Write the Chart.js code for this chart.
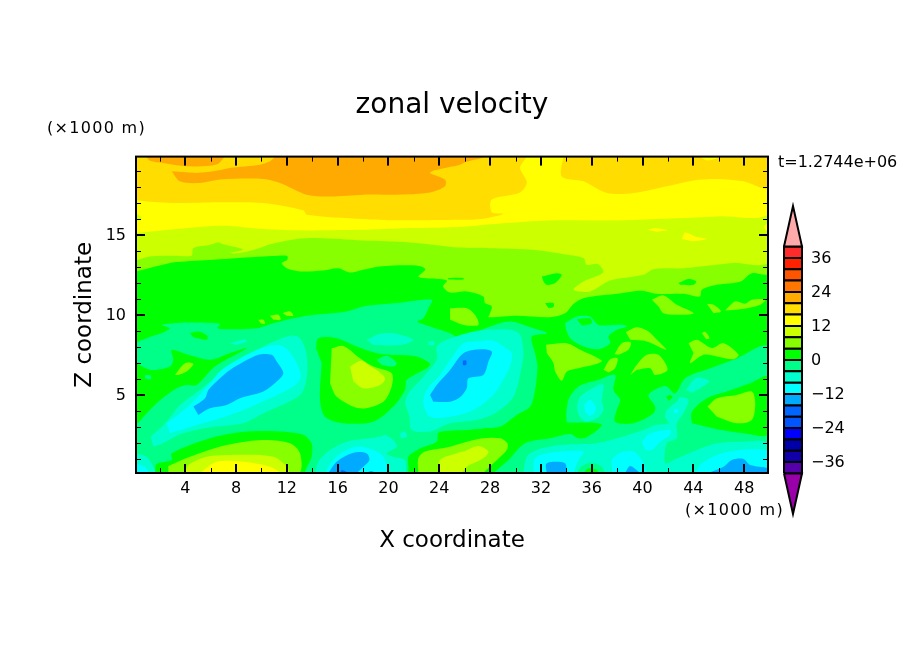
<!DOCTYPE html>
<html>
<head>
<meta charset="utf-8">
<title>zonal velocity</title>
<script src="https://cdn.jsdelivr.net/npm/chart.js"></script>
<style>
  html, body { margin: 0; padding: 0; background: #fff; }
  #wrap { position: relative; width: 904px; height: 654px; overflow: hidden; }
  canvas { position: absolute; left: 0; top: 0; }
</style>
</head>
<body>
<div id="wrap">
  <canvas id="fieldCanvas" width="904" height="654"></canvas>
  <canvas id="barCanvas" width="904" height="654"></canvas>
</div>
<script>
// axis values
const xRange = [0.125, 49.875];
const zRange = [0.125, 19.875];
const xMajorTicks = [4, 8, 12, 16, 20, 24, 28, 32, 36, 40, 44, 48];
const xMinorTicks = [2, 6, 10, 14, 18, 22, 26, 30, 34, 38, 42, 46];
const zMajorTicks = [5, 10, 15];
const zMinorTicks = [1, 2, 3, 4, 6, 7, 8, 9, 11, 12, 13, 14, 16, 17, 18, 19];

// colour bar
const barEdges = [-40, -36, -32, -28, -24, -20, -16, -12, -8, -4, 0, 4, 8, 12, 16, 20, 24, 28, 32, 36, 40];
const barColors = ['#5500aa', '#1100aa', '#0000aa', '#0000ff', '#0055ff', '#0066ff', '#00aaff', '#00ffff', '#00ffcc', '#00ff88',
  '#00ff00', '#88ff00', '#ccff00', '#ffff00', '#ffdd00', '#ffaa00', '#ff7700', '#ff5500', '#ff2200', '#ff2a2a'];
const barTicks = [-36, -24, -12, 0, 12, 24, 36];
const arrowTop = [[0, 40], [0.5, 54.3], [1, 40], [0, 40]];
const arrowBottom = [[0, -40], [0.5, -54.3], [1, -40], [0, -40]];

// shade colours by velocity band
const n16 = '#00aaff', n12 = '#00ffff', n8 = '#00ffcc', n4 = '#00ff88', p0 = '#00ff00',
  p4 = '#88ff00', p8 = '#ccff00', p12 = '#ffff00', p16 = '#ffdd00', p20 = '#ffaa00', n20 = '#0066ff';

// contour regions, [x, z] in km
const domain = [[0.125, 0.125], [49.875, 0.125], [49.875, 19.875], [0.125, 19.875]];

const band4 = [[0.125, 12.71], [2, 13.08], [3.3, 13.29], [6.2, 13.44], [10.15, 13.64], [12, 13.69], [12.04, 13.44], [11.6, 13.23], [12, 12.91],
  [13.04, 12.71], [14.87, 12.77], [16.05, 12.91], [16.97, 12.64], [18, 12.81], [19.3, 13.02], [22.2, 13.08], [22.9, 12.85], [22.35, 12.39],
  [22.75, 12.29], [24.6, 12.14], [24.3, 11.77], [24.85, 11.39], [26.16, 11.46], [27.47, 11.14], [27.6, 10.73], [28.13, 10.52], [27.95, 10],
  [27.87, 9.85], [30.1, 9.94], [32.7, 9.85], [33.9, 10.1], [34.56, 10.68], [35.35, 11.04], [37.97, 11.31], [39.94, 11.5], [41.1, 11.31],
  [43.2, 11.31], [44.5, 11.14], [44.67, 11.56], [45.85, 11.87], [47.7, 12.08], [48.6, 12.6], [49.875, 12.6], [49.875, 19.875], [0.125, 19.875]];
const band8 = [[0.125, 13.39], [1.2, 13.64], [3.06, 13.69], [4.5, 13.69], [4.64, 14.16], [5.95, 14.37], [6.6, 14.52], [7.13, 14.37], [8.3, 14.16],
  [8.57, 14.06], [7.47, 13.85], [8.3, 13.85], [9.6, 14.1], [10.7, 14.41], [12.8, 14.73], [14.35, 14.79], [18, 14.64], [21.7, 14.52], [25.6, 14.2],
  [28, 14.16], [31.4, 14.06], [34.04, 13.75], [35.35, 13.54], [35.6, 13.12], [36.5, 13.16], [36.9, 12.64], [35.35, 12.08], [34.56, 11.56],
  [35.87, 11.46], [37.45, 12.14], [40.07, 12.5], [40.86, 12.85], [43.2, 12.91], [45.85, 13.12], [47.16, 13.23], [49.875, 13.33],
  [49.875, 19.875], [0.125, 19.875]];
const band12 = [[0.125, 15.1], [3.3, 15.35], [7, 15.56], [10.15, 15.35], [12.8, 15.27], [18, 15.31], [20.65, 15.39], [25.6, 15.48], [28.8, 15.7],
  [32.72, 15.89], [37.97, 15.89], [43.2, 16.04], [45.85, 16.14], [49.875, 16.31], [49.875, 19.875], [0.125, 19.875]];
const gold16Left = [[0.125, 17.18], [0.96, 17.08], [3.6, 16.98], [7, 17.02], [10.15, 16.98], [13.3, 16.52], [13.56, 16.25], [18, 15.98], [20.65, 15.9],
  [25.6, 15.93], [27.47, 16], [29.05, 16.31], [28.13, 16.4], [28.13, 17.19], [30.36, 17.64], [30.89, 18.27], [30.36, 19.17], [30.76, 19.875], [0.125, 19.875]];
const gold16Right = [[33.77, 19.875], [33.64, 18.64], [35.35, 18.33], [37.2, 17.6], [39.3, 17.6], [41.9, 18.02], [44, 18.39], [45.85, 18.48],
  [47.95, 18.33], [49.875, 17.91], [49.875, 19.875]];
const orangeMain = [[2.93, 18.96], [3.59, 18.33], [5.16, 18.23], [6.74, 18.44], [10.15, 18.48], [11.46, 18.23], [13.56, 17.5], [15.4, 17.39], [18, 17.5],
  [20.65, 17.5], [23.27, 17.64], [24.45, 18.02], [24.45, 18.44], [23.27, 18.89], [25.63, 19.37], [26.03, 19.52], [27.6, 19.875], [11.2, 19.875],
  [10.67, 19.58], [9.89, 19.37], [7.52, 19.17], [6.21, 18.96], [4.9, 18.85]];
const orangeTop = [[0.91, 19.875], [1.22, 19.62], [2.27, 19.48], [4.1, 19.27], [5.95, 19.31], [6.6, 19.43], [7.13, 19.875]];
const yellowTopRight = [[44.5, 19.875], [45.06, 19.64], [45.98, 19.79], [46.06, 19.875]];
const yellowIsle1 = [[40.34, 15.31], [40.99, 15.41], [42.05, 15.27], [41.13, 15.19]];
const yellowIsle2 = [[43.09, 14.73], [43.35, 15.14], [44.28, 14.85], [45.06, 14.73], [44.01, 14.58]];
const yellowEdge = [[49.53, 15.48], [49.875, 15.73], [49.875, 15.1]];
const limeNotch = [[0.125, 16.35], [0.57, 16.04], [0.125, 15.9]];
const greenBand1 = [[32.07, 12.39], [33.25, 12.6], [33.64, 12.5], [33.12, 11.98], [32.46, 11.87], [32.2, 12.08]];
const greenBand2 = [[32.33, 10.73], [32.99, 10.73], [32.99, 10.48], [32.59, 10.42]];
const greenBand3 = [[42.83, 11.98], [43.62, 12.23], [44.22, 12.08], [44.01, 11.87], [42.96, 11.87]];
const greenSliver = [[24.7, 12.3], [25.9, 12.3], [25.9, 12.2], [24.7, 12.2]];

const tealMain = [[0.125, 0.125], [0.125, 8.12], [0.96, 8.54], [2.01, 8.81], [2.8, 9.16], [2.14, 9.37], [3.06, 9.48], [4.37, 9.52], [6.74, 9.44],
  [6.53, 9.16], [7.52, 9.1], [9.62, 9.16], [10.94, 9.48], [13.56, 9.94], [16.71, 10.21], [18.02, 10.52], [20.65, 10.73], [23.4, 10.94], [23.14, 10.41],
  [22.75, 9.79], [22.27, 9.58], [23.27, 9.27], [24.85, 8.85], [25.63, 8.54], [26.69, 8.85], [28, 9.27], [29.57, 9.58], [31.41, 9.16], [32.46, 8.85],
  [31.28, 8.64], [31.54, 7.6], [31.73, 6.77], [31.54, 5.31], [31.15, 4.27], [30.1, 3.75], [28.79, 3.02], [27.47, 2.91], [26.16, 2.81], [24.85, 2.77],
  [23.93, 2.64], [23.8, 2.08], [22.49, 1.66], [21.57, 1.14], [21.44, 0.125], [13.56, 0.125], [13.95, 1.14], [13.95, 1.98], [13.3, 2.5], [11.46, 2.71],
  [8.84, 2.71], [5.95, 2.29], [2.93, 1.35], [2.93, 0.94], [1.75, 0.69], [1.62, 0.125]];
const tealRight = [[28.26, 0.125], [29.44, 0.94], [30.76, 1.98], [32.72, 2.29], [34.3, 2.56], [34.95, 2.29], [35.61, 2.35], [36.79, 3.12], [35.87, 3.27],
  [34.56, 3.27], [34.04, 3.33], [34.17, 4.69], [34.96, 5.52], [36.53, 5.94], [37.84, 6.25], [37.71, 5.31], [38.24, 4.69], [37.97, 4.06], [37.84, 3.33],
  [39.29, 3.23], [40.86, 3.85], [40.99, 4.27], [40.47, 5], [41.78, 5.56], [42.57, 5.1], [43.35, 6.04], [45.32, 6.66], [47.16, 7.19], [49.875, 7.98],
  [49.875, 0.125]];
const tealIsle = [[33.9, 9.48], [34.82, 9.89], [35.87, 9.89], [36.53, 9.37], [38.5, 9.37], [38.76, 9.27], [37.97, 9.06], [37.32, 8.64], [37.45, 8.23],
  [36.53, 7.85], [35.35, 8.02], [34.3, 8.54], [33.98, 9.06]];
const greenInIsle = [[34.82, 9.73], [35.87, 9.79], [36, 9.48], [35.22, 9.33]];
const greenWedge = [[0.125, 3.12], [1.75, 4.48], [3.33, 5.41], [4.11, 5.62], [4.9, 5.62], [6.34, 6.77], [8.84, 7.91], [7.52, 7.6], [5.95, 7.19], [4.24, 7.5],
  [2.93, 7.81], [3.06, 7.19], [2.8, 6.77], [1.36, 6.56], [0.125, 6.98]];
const tealInWedge = [[0.83, 6.25], [1.28, 6.21], [1.28, 5.98], [0.83, 6.04]];
const limeInWedge = [[3.19, 6.25], [3.98, 6.98], [4.64, 6.93], [4.11, 6.46], [3.46, 6.25]];
const greenStrip = [[4.37, 8.85], [5.03, 8.96], [5.74, 8.69], [5.69, 8.44], [4.64, 8.6]];
const greenCentre = [[14.3, 7.91], [14.48, 8.54], [15.92, 8.54], [17.5, 8.02], [19.07, 7.6], [20.12, 7.5], [22.22, 7.39], [23.27, 6.87], [21.44, 5.94],
  [21.3, 5.31], [20.38, 4.27], [18.81, 3.33], [16.45, 3.23], [15, 3.64], [14.61, 4.69], [14.74, 6.98]];
const tealInCentre = [[19.07, 7.19], [19.86, 7.44], [20.65, 6.98], [20.38, 6.77], [19.47, 6.87]];
const limeCentre = [[15.53, 7.91], [16.45, 8.06], [17.76, 7.29], [18.81, 6.77], [20.25, 6.35], [20.25, 5.52], [19.6, 4.58], [17.76, 4.16], [15.92, 4.89], [15.4, 5.73]];
const yellowGreenCentre = [[16.97, 6.77], [17.89, 7.14], [18.42, 6.87], [19.07, 6.56], [19.73, 6.04], [19.34, 5.62], [18.02, 5.41], [17.24, 5.83]];
const greenOval = [[43.88, 3.23], [43.88, 3.95], [45.06, 4.79], [46.63, 5.21], [48.47, 5.73], [49.875, 6.14], [49.875, 2.56], [47.95, 2.6], [45.85, 2.85]];
const limeOval = [[45.11, 4.27], [45.85, 4.79], [47.42, 5], [48.6, 5.21], [48.87, 4.48], [48.6, 3.44], [47.42, 3.23], [45.85, 3.64]];

const plume1Outer = [[1.28, 2.39], [2.54, 3.33], [3.59, 4.37], [5.16, 5.31], [7, 6.46], [8.84, 7.39], [10.41, 8.12], [12.25, 8.69], [13.04, 8.54], [13.56, 7.5],
  [13.56, 6.04], [13.04, 5], [10.15, 3.85], [8.57, 3.23], [5.42, 2.91], [3.46, 2.5], [2.27, 1.98], [1.49, 1.77]];
const plume1Cyan = [[2.54, 3.23], [3.59, 3.85], [4.77, 4.69], [5.95, 5.73], [6.87, 6.56], [8.84, 7.5], [10.41, 8.02], [11.72, 8.02], [12.64, 7.19], [13.09, 6.14],
  [12.51, 5.52], [10.41, 4.69], [8.57, 4.06], [6.74, 3.54], [4.9, 3.12], [2.8, 2.6]];
const plume1Blue = [[4.64, 4.27], [5.56, 4.79], [5.82, 5.31], [6.74, 6.04], [7.52, 6.56], [9.76, 7.5], [10.8, 7.5], [11.2, 7.08], [11.72, 6.35], [11.2, 5.83],
  [10.15, 5.21], [8.31, 4.79], [7.26, 4.37], [5.95, 4.16], [5.03, 3.75]];
const plume2Outer = [[21.3, 4.48], [21.57, 5.1], [22.75, 6.14], [23.8, 7.19], [23.8, 8.02], [24.59, 8.44], [26.16, 8.85], [27.74, 9.06], [29.57, 9.06], [30.36, 8.75],
  [30.62, 7.6], [30.49, 6.77], [29.84, 4.89], [28.39, 3.85], [26.95, 3.44], [24.85, 3.23], [23.27, 2.71], [21.83, 2.81], [21.65, 3.64]];
const plume2Cyan = [[24.85, 7.19], [25.9, 8.23], [26.95, 8.33], [28.26, 8.39], [29.05, 8.02], [29.71, 7.6], [29.57, 6.77], [28.79, 5.62], [28.26, 5], [26.69, 4.06],
  [24.85, 3.64], [23.27, 3.64], [22.75, 4.48], [23.01, 5.31], [24.06, 6.25]];
const plume2Blue = [[23.27, 5], [23.8, 5.62], [24.85, 6.56], [25.9, 7.6], [27.21, 7.85], [28.13, 7.71], [27.87, 7.08], [27.47, 6.25], [26.29, 6.04], [26.16, 5.41],
  [25.63, 4.85], [24.85, 4.58], [23.53, 4.58]];
const plume2Dot = [[25.85, 7.14], [26.11, 7.14], [26.11, 6.87], [25.85, 6.87]];
const stripCyan = [[7.52, 8.23], [8.7, 8.48], [8.84, 8.33], [8.05, 8.12]];
const topIsle = [[18.29, 8.44], [19.34, 8.81], [20.38, 8.85], [21.96, 8.44], [21.04, 8.12], [18.81, 8.12]];
const topIsleSmall = [[23.14, 8.33], [23.59, 8.33], [23.59, 8.12], [23.14, 8.12]];

const lobeLeft4 = [[2.67, 0.56], [4.37, 1.14], [7.26, 1.87], [10.15, 2.19], [12.25, 1.98], [13.04, 1.35], [12.9, 0.125], [2.67, 0.125]];
const lobeLeft8 = [[3.98, 0.125], [4.24, 0.62], [5.69, 1.14], [7.52, 1.25], [10.94, 1.14], [11.99, 0.52], [12.25, 0.125]];
const lobeLeft12 = [[5.16, 0.125], [6.47, 0.83], [8.57, 0.83], [10.67, 0.52], [11.59, 0.125]];
const cornerOuter = [[0.125, 1.35], [0.96, 1.14], [1.49, 0.52], [1.62, 0.125], [0.125, 0.125]];
const cornerCyan = [[0.125, 0.69], [0.83, 0.52], [1.09, 0.125], [0.125, 0.125]];
const midOuter = [[14.22, 0.125], [14.48, 0.83], [15.4, 1.56], [16.71, 2.08], [19.34, 2.39], [19.73, 2.5], [20.38, 2.19], [20.65, 1.77], [19.86, 1.35], [20.38, 1.14],
  [21.3, 0.94], [21.38, 0.125]];
const midIsle = [[20.91, 2.6], [21.3, 2.71], [21.44, 2.39], [20.96, 2.29]];
const midCyan = [[15, 0.125], [15.4, 0.69], [16.19, 1.35], [17.5, 1.77], [18.81, 1.56], [19.6, 1.14], [20, 0.125]];
const midBlue = [[15.27, 0.125], [15.92, 0.83], [17.24, 1.39], [18.29, 1.35], [18.5, 0.94], [18.02, 0.52], [17.5, 0.125]];
const midBlueTail = [[18.3, 0.125], [18.6, 0.25], [19.07, 0.125]];
const midDark = [[16.19, 0.125], [16.32, 0.31], [16.71, 0.2]];
const lobeRight4 = [[22.35, 0.125], [22.35, 1.04], [22.88, 1.46], [24.85, 1.77], [26.16, 2.08], [27.47, 2.29], [28.79, 2.29], [29.36, 1.98], [29.31, 1.56], [28.26, 0.73], [27.47, 0.125]];
const lobeRight8 = [[23.93, 0.125], [24.06, 0.94], [25.5, 1.39], [25.9, 1.46], [27.08, 1.81], [27.87, 1.46], [27.47, 1.04], [26.16, 0.52], [25.77, 0.125]];

const rightOuter = [[30.62, 0.125], [30.89, 1.14], [31.67, 1.56], [33.51, 1.87], [36.4, 1.98], [37.97, 2.29], [40.07, 2.81], [40.99, 3.12], [42.04, 3.23], [41.78, 3.64],
  [41.91, 4.06], [42.7, 4.58], [42.96, 4.85], [43.62, 4.69], [43.22, 3.85], [42.7, 3.23], [42.7, 2.29], [41.91, 1.98], [41.78, 0.73], [42.44, 0.94], [44.27, 1.56],
  [45.85, 1.98], [47.95, 2.08], [49.875, 1.98], [49.875, 0.125]];
const hillOuter = [[34.82, 4.27], [35.09, 4.89], [36.53, 5.62], [36.92, 5.62], [36.79, 4.69], [36.92, 4.06], [36.4, 3.54], [35.48, 3.33], [34.96, 3.75]];
const hillCyan = [[35.4, 4.37], [35.87, 4.69], [36.32, 4.27], [36.19, 3.85], [35.82, 3.69], [35.48, 3.96]];
const patchOuter = [[43.43, 5.31], [44.14, 6.04], [44.8, 6.04], [45.27, 5.83], [44.54, 5.42], [43.88, 5.14]];
const tinyCyan = [[42.44, 4.06], [42.7, 4.14], [42.83, 3.94], [42.49, 3.85]];
const tinyGreen = [[41.86, 4.9], [42.17, 5], [42.36, 4.86], [42.04, 4.63]];
const cyanMid = [[39.94, 2.08], [40.6, 2.6], [42.17, 2.81], [42.17, 2.5], [41.39, 2.08], [40.73, 1.56], [40.2, 1.56]];
const cyanFoot1 = [[31.41, 0.125], [31.54, 1.04], [32.72, 1.39], [35.35, 1.46], [34.96, 0.94], [34.56, 0.125]];
const blueFoot1 = [[32.46, 0.125], [32.41, 0.69], [32.99, 0.83], [33.9, 0.73], [34.04, 0.125]];
const tealFoot = [[34.82, 0.125], [35.22, 0.56], [36, 0.77], [36.79, 0.52], [37.05, 0.125]];
const greenFoot = [[35.35, 0.125], [35.74, 0.41], [36.4, 0.31], [36.53, 0.125]];
const cyanFoot2 = [[37.63, 0.125], [37.58, 0.94], [38.24, 1.39], [39.29, 1.46], [39.94, 0.94], [40.34, 0.125]];
const blueFoot2 = [[38.63, 0.125], [39.02, 0.56], [39.81, 0.125]];
const cyanFoot3 = [[44.14, 0.125], [44.67, 0.73], [45.85, 1.25], [47.68, 1.56], [49.875, 1.46], [49.875, 0.125]];
const blueFoot3 = [[45.19, 0.125], [46.37, 0.52], [47.03, 0.94], [47.95, 1], [48.47, 0.62], [49.875, 0.41], [49.875, 0.125]];

const lime1 = [[32.41, 8.13], [34.04, 8.23], [35.09, 7.82], [36.79, 7.13], [36.14, 6.88], [34.96, 6.67], [34.04, 6.46], [33.64, 5.88], [33.12, 6.46], [32.99, 6.98], [32.46, 7.61]];
const lime2 = [[36.93, 6.57], [37.45, 7.23], [38.03, 7.29], [37.84, 6.67], [37.32, 6.4]];
const lime3 = [[37.79, 7.54], [38.37, 8.23], [39.08, 8.27], [38.89, 7.82], [38.1, 7.5]];
const lime4 = [[38.68, 8.92], [39.55, 9.23], [40.47, 8.96], [41.13, 8.44], [41.86, 7.82], [40.34, 8.34], [39.03, 8.44]];
const lime5 = [[39.03, 6.25], [39.55, 6.88], [40.34, 7.5], [41.26, 7.5], [41.97, 6.57], [40.99, 6.25], [40.6, 6.67], [39.55, 6.57]];
const lime6 = [[43.62, 8.23], [44.28, 8.44], [45.46, 7.92], [46.38, 8.23], [47.56, 7.5], [47.16, 7.23], [45.85, 7.4], [44.8, 7.5], [43.75, 6.98], [44.01, 7.61]];
const lime7 = [[44.67, 8.86], [44.93, 8.94], [45.27, 8.54], [45.01, 8.48]];
const lime9 = [[40.73, 10.94], [41.65, 11.21], [42.7, 10.62], [44.01, 10.1], [42.96, 10], [41.65, 10.1], [41.26, 10.52]];
const lime10 = [[45.06, 10.69], [45.59, 10.62], [46.17, 10.21], [45.59, 10.1]];
const lime11 = [[46.5, 10.27], [47.29, 10.83], [48.08, 10.69], [48.61, 10.94], [49.66, 10.94], [49.26, 10.62], [48.34, 10.42], [47.43, 10.31]];
const lime13 = [[24.85, 10.41], [26.16, 10.41], [26.82, 9.98], [27.08, 9.37], [25.9, 9.37], [24.85, 9.69]];
const limeSpot1 = [[9.76, 9.69], [10.15, 9.69], [10.28, 9.44], [9.94, 9.48]];
const limeSpot2 = [[10.67, 9.94], [11.33, 10], [11.52, 9.69], [10.94, 9.69]];
const limeSpot3 = [[11.67, 10.1], [12.25, 10.21], [12.51, 9.94], [11.99, 9.94]];

// painted in this order, later ones on top
const layers = [
  [domain, p0], [band4, p4], [band8, p8], [band12, p12], [gold16Left, p16], [gold16Right, p16], [orangeMain, p20], [orangeTop, p20],
  [yellowTopRight, p12], [yellowIsle1, p12], [yellowIsle2, p12], [yellowEdge, p12], [limeNotch, p8],
  [greenBand1, p0], [greenBand2, p0], [greenBand3, p0], [greenSliver, p0],
  [tealMain, n4], [tealRight, n4], [tealIsle, n4], [greenInIsle, p0],
  [greenWedge, p0], [tealInWedge, n4], [limeInWedge, p4], [greenStrip, p0],
  [greenCentre, p0], [tealInCentre, n4], [limeCentre, p4], [yellowGreenCentre, p8],
  [greenOval, p0], [limeOval, p4],
  [plume1Outer, n8], [plume1Cyan, n12], [plume1Blue, n16],
  [plume2Outer, n8], [plume2Cyan, n12], [plume2Blue, n16], [plume2Dot, n20],
  [stripCyan, n8], [topIsle, n8], [topIsleSmall, n8],
  [lobeLeft4, p4], [lobeLeft8, p8], [lobeLeft12, p12], [cornerOuter, n8], [cornerCyan, n12],
  [midOuter, n8], [midIsle, n8], [midCyan, n12], [midBlue, n16], [midBlueTail, n16], [midDark, n20],
  [lobeRight4, p4], [lobeRight8, p8],
  [rightOuter, n8], [hillOuter, n8], [hillCyan, n12], [patchOuter, n8], [tinyCyan, n12], [tinyGreen, p0], [cyanMid, n12],
  [cyanFoot1, n12], [blueFoot1, n16], [tealFoot, n4], [greenFoot, p0], [cyanFoot2, n12], [blueFoot2, n16], [cyanFoot3, n12], [blueFoot3, n16],
  [lime1, p4], [lime2, p4], [lime3, p4], [lime4, p4], [lime5, p4], [lime6, p4], [lime7, p4], [lime9, p4], [lime10, p4], [lime11, p4], [lime13, p4],
  [limeSpot1, p4], [limeSpot2, p4], [limeSpot3, p4]
];

// free labels around the frame
const freeLabels = [
  { text: '(×1000 m)', x: 47, y: 129, font: '16px "DejaVu Sans"', spacing: '1.3px' },
  { text: '(×1000 m)', x: 685, y: 511, font: '16px "DejaVu Sans"', spacing: '1.3px' },
  { text: 't=1.2744e+06', x: 778, y: 163, font: '16px "DejaVu Sans"', spacing: '0px' }
];

const shapeDataset = (points, color, line, smooth) => ({
  data: points.map(p => ({ x: p[0], y: p[1] })),
  showLine: true,
  fill: 'shape',
  backgroundColor: color,
  borderColor: line ? '#000' : color,
  borderWidth: line ? 2 : 0,
  pointRadius: 0,
  tension: smooth ? 0.3 : 0,
  clip: line ? false : undefined
});

// ticks point inwards on all four sides, so they are drawn here from the scales
const framePlugin = {
  id: 'frame',
  afterDatasetsDraw(chart) {
    const { ctx, chartArea: a, scales } = chart;
    ctx.save();
    ctx.fillStyle = '#000';
    const xTick = (v, len, w) => {
      const p = Math.round(scales.x.getPixelForValue(v));
      ctx.fillRect(p - Math.floor(w / 2), a.top, w, len);
      ctx.fillRect(p - Math.floor(w / 2), a.bottom - len, w, len);
    };
    const zTick = (v, len, w) => {
      const p = Math.round(scales.y.getPixelForValue(v));
      ctx.fillRect(a.left, p - Math.floor(w / 2), len, w);
      ctx.fillRect(a.right - len, p - Math.floor(w / 2), len, w);
    };
    xMinorTicks.forEach(v => xTick(v, 5, 1));
    xMajorTicks.forEach(v => xTick(v, 9, 2));
    zMinorTicks.forEach(v => zTick(v, 5, 1));
    zMajorTicks.forEach(v => zTick(v, 9, 2));
    ctx.strokeStyle = '#000';
    ctx.lineWidth = 2;
    ctx.strokeRect(a.left, a.top, a.right - a.left, a.bottom - a.top);
    ctx.textBaseline = 'middle';
    ctx.textAlign = 'left';
    freeLabels.forEach(l => {
      ctx.font = l.font;
      ctx.letterSpacing = l.spacing;
      ctx.fillText(l.text, l.x, l.y);
    });
    ctx.restore();
  }
};

new Chart(document.getElementById('fieldCanvas'), {
  type: 'scatter',
  data: { datasets: layers.slice().reverse().map(l => shapeDataset(l[0], l[1], false, l[0] !== domain)) },
  options: {
    responsive: false,
    devicePixelRatio: 1,
    animation: false,
    events: [],
    plugins: {
      legend: { display: false },
      tooltip: { enabled: false },
      title: {
        display: true,
        text: 'zonal velocity',
        color: '#000',
        font: { family: '"DejaVu Sans"', size: 28, weight: 'normal', lineHeight: 1.2 },
        padding: { top: 89, bottom: 34 }
      }
    },
    scales: {
      x: {
        type: 'linear',
        min: xRange[0],
        max: xRange[1],
        grid: { display: false, drawTicks: false },
        border: { display: false },
        afterBuildTicks: s => { s.ticks = xMajorTicks.map(v => ({ value: v })); },
        afterFit: s => { s.height = 181; },
        ticks: { autoSkip: false, maxRotation: 0, padding: 6, color: '#000', font: { family: '"DejaVu Sans"', size: 16 } },
        title: {
          display: true,
          text: 'X coordinate',
          color: '#000',
          font: { family: '"DejaVu Sans"', size: 23, lineHeight: 1.2 },
          padding: { top: 0, bottom: 99 }
        }
      },
      y: {
        type: 'linear',
        min: zRange[0],
        max: zRange[1],
        grid: { display: false, drawTicks: false },
        border: { display: false },
        afterBuildTicks: s => { s.ticks = zMajorTicks.map(v => ({ value: v })); },
        afterFit: s => { s.width = 136; },
        ticks: { autoSkip: false, padding: 10, labelOffset: 1, color: '#000', font: { family: '"DejaVu Sans"', size: 16 } },
        title: {
          display: true,
          text: 'Z coordinate',
          color: '#000',
          font: { family: '"DejaVu Sans"', size: 23, lineHeight: 1.2 },
          padding: { top: 71, bottom: 0 }
        }
      },
      // empty axis keeps the space for the colour bar so the title stays centred on the page
      spacer: {
        type: 'linear',
        position: 'right',
        grid: { display: false, drawTicks: false },
        border: { display: false },
        ticks: { display: false },
        afterFit: s => { s.width = 136; }
      }
    }
  },
  plugins: [framePlugin]
});

// colour bar with its two end arrows
const bandDatasets = barColors.map((color, i) => {
  const lo = barEdges[i], hi = barEdges[i + 1];
  return shapeDataset([[0, lo], [1, lo], [1, hi], [0, hi], [0, lo]], color, true, false);
});

new Chart(document.getElementById('barCanvas'), {
  type: 'scatter',
  data: { datasets: [shapeDataset(arrowTop, '#ffaaaa', true, false), shapeDataset(arrowBottom, '#9900aa', true, false)].concat(bandDatasets) },
  options: {
    responsive: false,
    devicePixelRatio: 1,
    animation: false,
    events: [],
    layout: { padding: { left: 784, right: 0, top: 206, bottom: 140 } },
    plugins: { legend: { display: false }, tooltip: { enabled: false } },
    scales: {
      x: { type: 'linear', min: 0, max: 1, display: false },
      y: {
        type: 'linear',
        position: 'right',
        min: -54.3,
        max: 54.3,
        grid: { display: false, drawTicks: false },
        border: { display: false },
        afterBuildTicks: s => { s.ticks = barTicks.map(v => ({ value: v })); },
        afterFit: s => { s.width = 102; },
        ticks: {
          autoSkip: false,
          padding: 9,
          labelOffset: 1,
          color: '#000',
          font: { family: '"DejaVu Sans"', size: 16 },
          callback: v => String(v).replace('-', '\u2212')
        }
      }
    }
  }
});
</script>
</body>
</html>
